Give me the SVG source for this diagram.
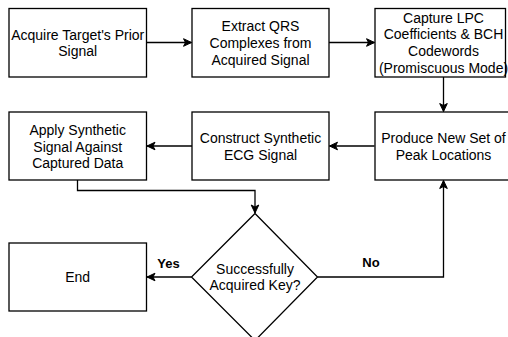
<svg xmlns="http://www.w3.org/2000/svg" width="508" height="337" viewBox="0 0 508 337">
<style>
.box{fill:#fff;stroke:#000;stroke-width:1.3}
.t{font-family:"Liberation Sans",Arial,sans-serif;font-size:14px;fill:#000;text-anchor:middle}
.lbl{font-family:"Liberation Sans",Arial,sans-serif;font-size:13px;font-weight:bold;fill:#000;text-anchor:middle}
.c{fill:none;stroke:#000;stroke-width:1.3;marker-end:url(#ah)}
</style>
<defs>
<marker id="ah" markerUnits="userSpaceOnUse" markerWidth="10" markerHeight="10" refX="9" refY="5" orient="auto">
<path d="M1,1.2 L9,5 L1,8.8 L3,5 Z" fill="#000" stroke="#000" stroke-width="1"/>
</marker>
</defs>
<rect width="508" height="337" fill="#fff"/>
<g id="connectors">
<path class="c" d="M146.5,42.5 H191.5"/>
<path class="c" d="M329,42.5 H374.5"/>
<path class="c" d="M443.5,77 V111.5"/>
<path class="c" d="M374.5,146 H329.5"/>
<path class="c" d="M192,146 H147"/>
<path class="c" d="M77.5,180 V190.5 H255 V213"/>
<path class="c" d="M191.5,277 H147"/>
<path class="c" d="M317.5,277 H443.5 V180.5"/>
</g>
<g id="n1"><rect class="box" x="9" y="8.5" width="137.5" height="68.5"/>
<text class="t" x="77.7" y="39.5">Acquire Target's Prior</text><text class="t" x="77.7" y="56.3">Signal</text></g>
<g id="n2"><rect class="box" x="192" y="8.5" width="137" height="68.5"/>
<text class="t" x="260.5" y="31">Extract QRS</text><text class="t" x="260.5" y="47.8">Complexes from</text><text class="t" x="260.5" y="64.6">Acquired Signal</text></g>
<g id="n3"><rect class="box" x="375" y="8.5" width="130.5" height="68.5"/>
<text class="t" x="443.5" y="22.5">Capture LPC</text><text class="t" x="443.5" y="39.3">Coefficients &amp; BCH</text><text class="t" x="443.5" y="56.1">Codewords</text><text class="t" x="443.5" y="72.9">(Promiscuous Mode)</text></g>
<g id="n4"><rect class="box" x="9" y="112" width="137.5" height="68"/>
<text class="t" x="77.7" y="134.7">Apply Synthetic</text><text class="t" x="77.7" y="151.5">Signal Against</text><text class="t" x="77.7" y="168.3">Captured Data</text></g>
<g id="n5"><rect class="box" x="192" y="112" width="137" height="68"/>
<text class="t" x="260.5" y="143">Construct Synthetic</text><text class="t" x="260.5" y="159.8">ECG Signal</text></g>
<g id="n6"><rect class="box" x="375" y="112" width="140" height="68"/>
<text class="t" x="443.5" y="143">Produce New Set of</text><text class="t" x="443.5" y="159.8">Peak Locations</text></g>
<g id="n7"><path class="box" d="M255,213.5 L317.5,277 L255,340.5 L191.5,277 Z"/>
<text class="t" x="255" y="273.6">Successfully</text><text class="t" x="255" y="290.4">Acquired Key?</text></g>
<g id="n8"><rect class="box" x="9" y="243" width="137.5" height="68"/>
<text class="t" x="77.7" y="282">End</text></g>
<text class="lbl" x="168.5" y="268">Yes</text>
<text class="lbl" x="371" y="266.5">No</text>
</svg>
